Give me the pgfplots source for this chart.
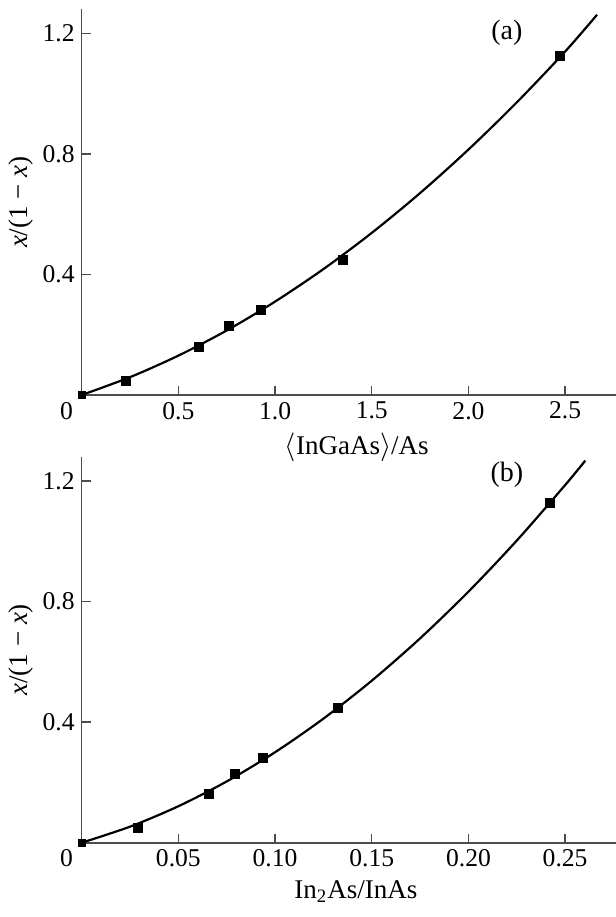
\documentclass[border=0pt]{standalone}
\usepackage{fontspec}
\setmainfont{Liberation Serif}
\usepackage{pgfplots}
\pgfplotsset{compat=1.18}

\pgfplotsset{
  panel/.style={
    scale only axis, width=267.15bp, height=192.85bp,
    axis x line=bottom, axis y line=left,
    axis line style={-, line width=0.8bp, black!70},
    every outer x axis line/.append style={-},
    every outer y axis line/.append style={-},
    tick style={line width=0.7bp, black!70},
    major tick length=4.5bp,
    tick align=inside,
    ymin=0, ymax=1.28,
    ytick={0.4,0.8,1.2}, yticklabels={0.4,0.8,1.2},
    tick label style={font=\fontsize{12.8bp}{15bp}\selectfont},
    label style={font=\fontsize{13.5bp}{16bp}\selectfont},
    ylabel={\textit{x}/(1 − \textit{x})},
    ylabel style={yshift=-2bp},
    clip=false,
  },
  curve/.style={black, line width=1.1bp, smooth},
  pts/.style={only marks, mark=square*, mark size=2.25bp, black},
  pt0/.style={only marks, mark=square*, mark size=1.7bp, black},
}

\begin{document}
\begin{tikzpicture}
% ---------- panel (a) ----------
\begin{axis}[panel,
  xmin=0, xmax=2.763,
  xtick={0,0.5,1,1.5,2,2.5},
  xticklabels={\makebox[0pt][r]{0\hspace{4.4bp}},0.5,1.0,1.5,2.0,2.5},
  xlabel={$\langle$InGaAs$\rangle$/As},
  xlabel style={xshift=4bp},
]
\addplot[curve] coordinates {
 (0,0) (0.25,0.0593) (0.5,0.1307) (0.75,0.2142) (1.0,0.310) (1.25,0.4179)
 (1.5,0.538) (1.75,0.6702) (2.0,0.8146) (2.25,0.9712) (2.5,1.1399) (2.665,1.262)
};
\addplot[pt0] coordinates {(0,0)};
\addplot[pts] coordinates {
 (0.228,0.0476) (0.604,0.158) (0.760,0.229) (0.927,0.282) (1.353,0.447) (2.471,1.125)
};
\node[font=\fontsize{14bp}{16.5bp}\selectfont] at (axis cs:2.199,1.202) {(a)};
\end{axis}

% ---------- panel (b) ----------
\begin{axis}[panel, at={(0,-223.85bp)},
  xmin=0, xmax=0.2763,
  xtick={0,0.05,0.10,0.15,0.20,0.25},
  xticklabels={\makebox[0pt][r]{0\hspace{4.4bp}},0.05,0.10,0.15,0.20,0.25},
  xlabel={In\textsubscript{2}As/InAs},
  xlabel style={xshift=3.5bp},
]
\addplot[curve] coordinates {
 (0,0) (0.025,0.0533) (0.05,0.1211) (0.075,0.2034) (0.1,0.3003) (0.125,0.4117)
 (0.15,0.5377) (0.175,0.6782) (0.2,0.8332) (0.225,1.0028) (0.25,1.1869) (0.2604,1.268)
};
\addplot[pt0] coordinates {(0,0)};
\addplot[pts] coordinates {
 (0.0289,0.049) (0.0660,0.162) (0.0790,0.229) (0.0937,0.283) (0.1325,0.448) (0.2422,1.128)
};
\node[font=\fontsize{14bp}{16.5bp}\selectfont] at (axis cs:0.2199,1.222) {(b)};
\end{axis}

\pgfresetboundingbox
\useasboundingbox (-40.85bp,-261bp) rectangle (267.15bp,197.5bp);
\end{tikzpicture}
\end{document}
